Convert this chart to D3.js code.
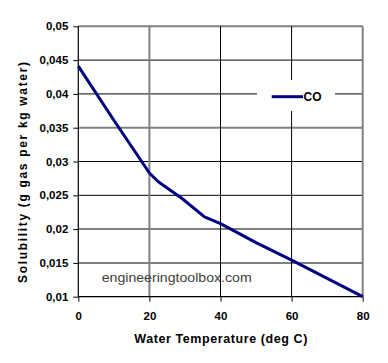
<!DOCTYPE html>
<html><head><meta charset="utf-8">
<script src="https://cdn.jsdelivr.net/npm/d3@7"></script>
<style>body{margin:0;background:#fff}svg{display:block}text{font-family:Arial,"Liberation Sans",sans-serif}</style>
</head><body><svg id="c" width="388" height="363"></svg>
<script>
const temps = [0, 10, 20, 22.5, 29, 35.5, 40, 50, 60, 80];
const solubility = [0.0441, 0.0361, 0.0283, 0.0270, 0.0246, 0.0218, 0.0208, 0.0180, 0.0154, 0.0100];
const xTicks = [0, 20, 40, 60, 80];
const yTicks = [0.01, 0.015, 0.02, 0.025, 0.03, 0.035, 0.04, 0.045, 0.05];
const yTickLabels = ["0,01", "0,015", "0,02", "0,025", "0,03", "0,035", "0,04", "0,045", "0,05"];
const seriesName = "CO";
const xTitle = "Water Temperature (deg C)";
const yTitle = "Solubility (g gas per kg water)";
const watermark = "engineeringtoolbox.com";

const svg = d3.select("#c");
const L = 78.3, R = 362.7, T = 26.3, B = 296.7;
const x = d3.scaleLinear().domain([0, 80]).range([L, R]);
const y = d3.scaleLinear().domain([0.01, 0.05]).range([B, T]);
const grayY = [0.015, 0.02, 0.035, 0.05];
const grayX = [20, 80];

// horizontal gridlines
svg.append("g").selectAll("line").data(yTicks.filter(d => d > 0.01)).join("line")
  .attr("x1", L).attr("x2", R).attr("y1", d => y(d)).attr("y2", d => y(d))
  .attr("stroke", d => grayY.some(g => Math.abs(g - d) < 1e-9) ? "#808080" : "#000")
  .attr("stroke-width", d => grayY.some(g => Math.abs(g - d) < 1e-9) ? 2 : 1);
// vertical gridlines
svg.append("g").selectAll("line").data(xTicks.filter(d => d > 0)).join("line")
  .attr("y1", T).attr("y2", B).attr("x1", d => x(d)).attr("x2", d => x(d))
  .attr("stroke", d => grayX.includes(d) ? "#808080" : "#000")
  .attr("stroke-width", d => grayX.includes(d) ? 2 : 1);

// legend background
const lg = svg.append("g");
lg.append("rect").attr("x", 257).attr("y", 80).attr("width", 78).attr("height", 31).attr("fill", "#fff");
lg.append("line").attr("x1", 271.7).attr("x2", 303).attr("y1", 96.7).attr("y2", 96.7)
  .attr("stroke", "#000080").attr("stroke-width", 3);
lg.append("text").attr("x", 303.5).attr("y", 101).attr("font-size", 12).attr("font-weight", "bold").text(seriesName);

// watermark
svg.append("text").attr("x", 101.7).attr("y", 282).attr("font-size", 13.5).attr("fill", "#404040")
  .attr("textLength", 150).attr("lengthAdjust", "spacingAndGlyphs").text(watermark);

// axes
const yAxis = d3.axisLeft(y).tickValues(yTicks).tickFormat((d, i) => yTickLabels[i]).tickSize(5).tickPadding(5);
const gy = svg.append("g").attr("transform", `translate(${L},0)`).call(yAxis);
const xAxis = d3.axisBottom(x).tickValues(xTicks).tickFormat(d3.format("d")).tickSize(5).tickPadding(10);
const gx = svg.append("g").attr("transform", `translate(0,${B})`).call(xAxis);
[gx, gy].forEach(g => {
  g.selectAll("path.domain").attr("stroke", "#000").attr("stroke-width", 1.2);
  g.selectAll(".tick line").attr("stroke", "#000");
  g.selectAll("text").attr("font-family", "Arial, 'Liberation Sans', sans-serif").attr("font-size", 11.5).attr("font-weight", "bold").attr("fill", "#000");
});
gx.select("path.domain").attr("d", `M${L},0H${R}`);
gy.select("path.domain").attr("d", `M0,${B}V${T}`);

// line
const pts = temps.map((t, i) => [t, solubility[i]]);
svg.append("path").datum(pts)
  .attr("fill", "none").attr("stroke", "#000080").attr("stroke-width", 3).attr("stroke-linejoin", "round")
  .attr("d", d3.line().x(d => x(d[0])).y(d => y(d[1])));

// titles
svg.append("text").attr("x", 220.8).attr("y", 343).attr("text-anchor", "middle")
  .attr("font-size", 12.5).attr("font-weight", "bold")
  .attr("textLength", 173).attr("lengthAdjust", "spacing").text(xTitle);
svg.append("text").attr("transform", `translate(26.5,172.5) rotate(-90)`).attr("text-anchor", "middle")
  .attr("font-size", 12).attr("font-weight", "bold")
  .attr("textLength", 221).attr("lengthAdjust", "spacing").text(yTitle);
</script></body></html>
